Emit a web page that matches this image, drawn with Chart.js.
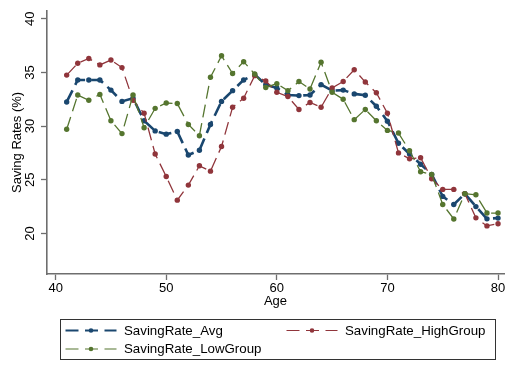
<!DOCTYPE html>
<html>
<head>
<meta charset="utf-8">
<script src="https://cdn.jsdelivr.net/npm/chart.js@4"></script>
<style>
  body { margin: 0; background: #fff; }
  canvas { display: block; }
</style>
</head>
<body>
<canvas id="savingChart" width="508" height="365"></canvas>
<script>
const ages = [41, 42, 43, 44, 45, 46, 47, 48, 49, 50, 51, 52, 53, 54, 55, 56, 57, 58, 59, 60,
    61, 62, 63, 64, 65, 66, 67, 68, 69, 70, 71, 72, 73, 74, 75, 76, 77, 78, 79, 80];

const savingAvg = [32.25, 34.3, 34.3, 34.3, 33.35, 32.3, 32.6, 30.5, 29.55, 29.25,
    29.5, 27.3, 27.75, 30.15, 32.3, 33.3, 34.3, 34.8, 33.86, 33.55,
    32.9, 32.84, 32.9, 33.86, 33.3, 33.35, 33.0, 32.87, 31.85, 30.46,
    28.4, 27.4, 26.45, 25.5, 23.45, 22.7, 23.7, 22.5, 21.36, 21.43];

const savingHigh = [34.75, 35.85, 36.3, 35.7, 36.15, 35.45, 32.4, 31.2, 27.4, 25.3,
    23.1, 24.5, 26.3, 25.8, 28.1, 31.75, 32.6, 34.7, 34.2, 33.15,
    32.75, 31.55, 32.2, 31.75, 33.55, 34.15, 35.25, 34.1, 33.1, 31.2,
    27.5, 26.95, 27.05, 25.1, 24.1, 24.1, 23.7, 21.45, 20.7, 20.9];

const savingLow = [29.7, 32.9, 32.4, 32.95, 30.5, 29.3, 32.9, 29.85, 31.65, 32.15,
    32.1, 30.15, 29.1, 34.55, 36.55, 34.9, 36.0, 34.85, 33.6, 33.95,
    33.3, 34.15, 33.45, 35.95, 33.15, 32.5, 30.6, 31.55, 30.5, 29.6,
    29.35, 27.7, 25.75, 25.5, 22.7, 21.35, 23.7, 23.6, 21.9, 21.9];

const xTicks = [40, 50, 60, 70, 80];
const yTicks = [20, 25, 30, 35, 40];

const FONT = 'Liberation Sans, Arial, sans-serif';
const AXIS_COLOR = '#6e6e6e';

function toPoints(values) {
    return values.map(function (v, i) {
        return { x: ages[i], y: v };
    });
}

function makeDataset(label, values, color, width, order) {
    return {
        label: label,
        data: toPoints(values),
        borderColor: color,
        backgroundColor: color,
        borderWidth: width,
        borderDash: [13, 6],
        pointRadius: 2.7,
        pointBorderWidth: 0,
        pointBackgroundColor: color,
        tension: 0,
        fill: false,
        order: order
    };
}

// legend drawn as a boxed, two column key under the axis
const boxLegend = {
    id: 'boxLegend',
    afterDraw(chart) {
        const ctx = chart.ctx;
        const slots = [[65.5, 330.5], [286.5, 330.5], [65.5, 349]];
        ctx.save();
        ctx.strokeStyle = '#333';
        ctx.lineWidth = 1;
        ctx.setLineDash([]);
        ctx.strokeRect(60.5, 319.5, 435, 40);

        chart.data.datasets.forEach(function (ds, i) {
            const x = slots[i][0];
            const y = slots[i][1];
            ctx.strokeStyle = ds.borderColor;
            ctx.lineWidth = ds.borderWidth > 2 ? 2 : 1.2;
            ctx.setLineDash([13, 6.5]);
            ctx.beginPath();
            ctx.moveTo(x, y);
            ctx.lineTo(x + 51, y);
            ctx.stroke();
            ctx.setLineDash([]);
            ctx.fillStyle = ds.borderColor;
            ctx.beginPath();
            ctx.arc(x + 25.5, y, 2.3, 0, Math.PI * 2);
            ctx.fill();
            ctx.fillStyle = '#000';
            ctx.font = '13.3px ' + FONT;
            ctx.textAlign = 'left';
            ctx.textBaseline = 'middle';
            ctx.fillText(ds.label, x + 58.5, y + 0.5);
        });
        ctx.restore();
    }
};

const elem = document.getElementById('savingChart');

new Chart(elem, {
    type: 'line',
    data: {
        datasets: [
            makeDataset('SavingRate_Avg', savingAvg, '#1a476f', 2.6, 2),
            makeDataset('SavingRate_HighGroup', savingHigh, '#90353b', 1.3, 1),
            makeDataset('SavingRate_LowGroup', savingLow, '#55752f', 1.3, 0)
        ]
    },
    options: {
        responsive: false,
        animation: false,
        layout: {
            padding: { left: 0, right: 1, top: 8, bottom: 55.5 }
        },
        plugins: {
            legend: { display: false },
            tooltip: { enabled: false }
        },
        scales: {
            x: {
                type: 'linear',
                min: 39.22,
                max: 80.54,
                afterBuildTicks: function (scale) {
                    scale.ticks = xTicks.map(function (v) { return { value: v }; });
                },
                afterFit: function (scale) {
                    scale.height = 35.5;
                },
                grid: {
                    drawOnChartArea: false,
                    drawTicks: true,
                    tickLength: 6,
                    tickColor: AXIS_COLOR,
                    tickWidth: 1.3
                },
                border: { display: true, color: AXIS_COLOR, width: 1.6 },
                ticks: {
                    color: '#000',
                    padding: 1,
                    maxRotation: 0,
                    font: { family: FONT, size: 13 }
                },
                title: {
                    display: true,
                    text: 'Age',
                    color: '#000',
                    padding: { top: 0, bottom: 0 },
                    font: { family: FONT, size: 13 }
                }
            },
            y: {
                type: 'linear',
                min: 16.22,
                max: 40.74,
                afterBuildTicks: function (scale) {
                    scale.ticks = yTicks.map(function (v) { return { value: v }; });
                },
                afterFit: function (scale) {
                    scale.width = 47;
                },
                grid: {
                    drawOnChartArea: false,
                    drawTicks: true,
                    tickLength: 6,
                    tickColor: AXIS_COLOR,
                    tickWidth: 1.3
                },
                border: { display: true, color: AXIS_COLOR, width: 1.6 },
                ticks: {
                    color: '#000',
                    padding: 3,
                    minRotation: 90,
                    maxRotation: 90,
                    crossAlign: 'center',
                    font: { family: FONT, size: 13 }
                },
                title: {
                    display: true,
                    text: 'Saving Rates (%)',
                    color: '#000',
                    padding: { top: 9.7, bottom: 0 },
                    font: { family: FONT, size: 13 }
                }
            }
        }
    },
    plugins: [boxLegend]
});
</script>
</body>
</html>
